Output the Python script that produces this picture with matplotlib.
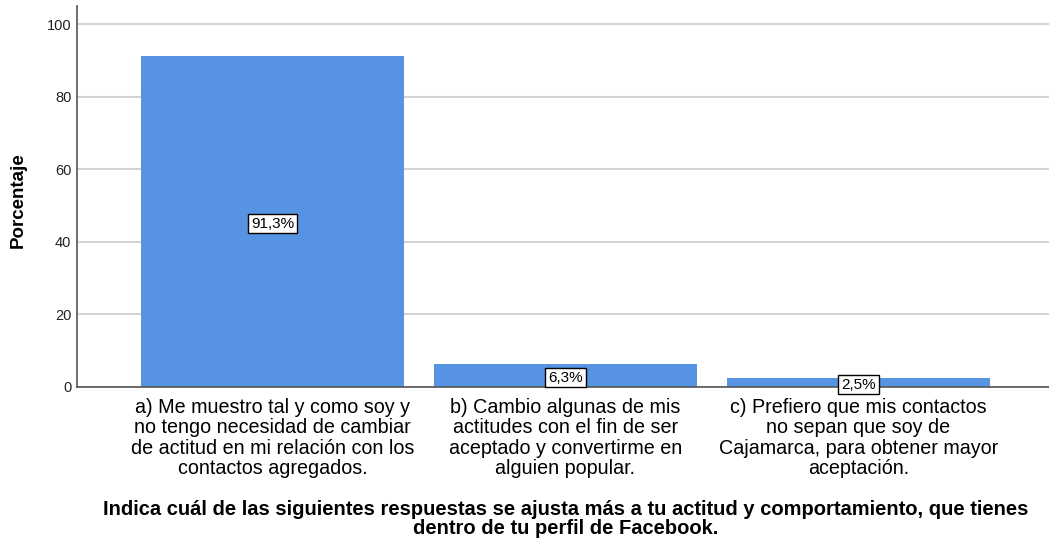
import matplotlib
matplotlib.use("Agg")
import matplotlib.pyplot as plt
from matplotlib import font_manager

categories = [
    "a) Me muestro tal y como soy y\nno tengo necesidad de cambiar\nde actitud en mi relación con los\ncontactos agregados.",
    "b) Cambio algunas de mis\nactitudes con el fin de ser\naceptado y convertirme en\nalguien popular.",
    "c) Prefiero que mis contactos\nno sepan que soy de\nCajamarca, para obtener mayor\naceptación.",
]
values = [91.3, 6.3, 2.5]
value_labels = ["91,3%", "6,3%", "2,5%"]
yticks = [0, 20, 40, 60, 80, 100]

names = {f.name for f in font_manager.fontManager.ttflist}
fam = "Liberation Sans Narrow" if "Liberation Sans Narrow" in names else "Liberation Sans"
plt.rcParams["font.family"] = ["Liberation Sans", "DejaVu Sans"]

fig = plt.figure(figsize=(10.49, 5.40), dpi=100)
ax = fig.add_axes([77/1049, 1-387/540, 1-77/1049, (387-6)/540])

x = list(range(len(values)))
ax.bar(x, values, width=0.9, color="#5694e3", zorder=2)
ax.set_xlim(-0.667, 2.65)
ax.set_ylim(0, 105)
ax.set_yticks(yticks)
ax.yaxis.grid(True, color="#d4d4d4", linewidth=1.5, zorder=0)
ax.set_axisbelow(True)
for s in ["top", "right"]:
    ax.spines[s].set_visible(False)
ax.spines["left"].set_color("#555555")
ax.spines["bottom"].set_color("#555555")
ax.spines["left"].set_linewidth(1.2)
ax.spines["bottom"].set_linewidth(1.2)
ax.tick_params(axis="y", length=0, pad=4, labelsize=10.5, labelcolor="#222222")
ax.tick_params(axis="x", length=0, pad=8)
ax.set_xticks(x)
ax.set_xticklabels(categories, fontsize=14.2, family=fam, linespacing=1.08)

for xi, v, lab in zip(x, values, value_labels):
    ax.text(xi, v/2 - 0.6, lab, ha="center", va="center", fontsize=11, zorder=3,
            bbox=dict(boxstyle="square,pad=0.18", facecolor="white", edgecolor="black", linewidth=1))

fig.text(18/1049, 1-200/540, "Porcentaje", rotation=90, ha="center", va="center",
         fontsize=13.5, fontweight="bold")
fig.text(566/1049, 1-519/540, "Indica cuál de las siguientes respuestas se ajusta más a tu actitud y comportamiento, que tienes\ndentro de tu perfil de Facebook.",
         ha="center", va="center", fontsize=14.5, fontweight="bold", linespacing=0.95)

fig.savefig("out.png", dpi=100)
